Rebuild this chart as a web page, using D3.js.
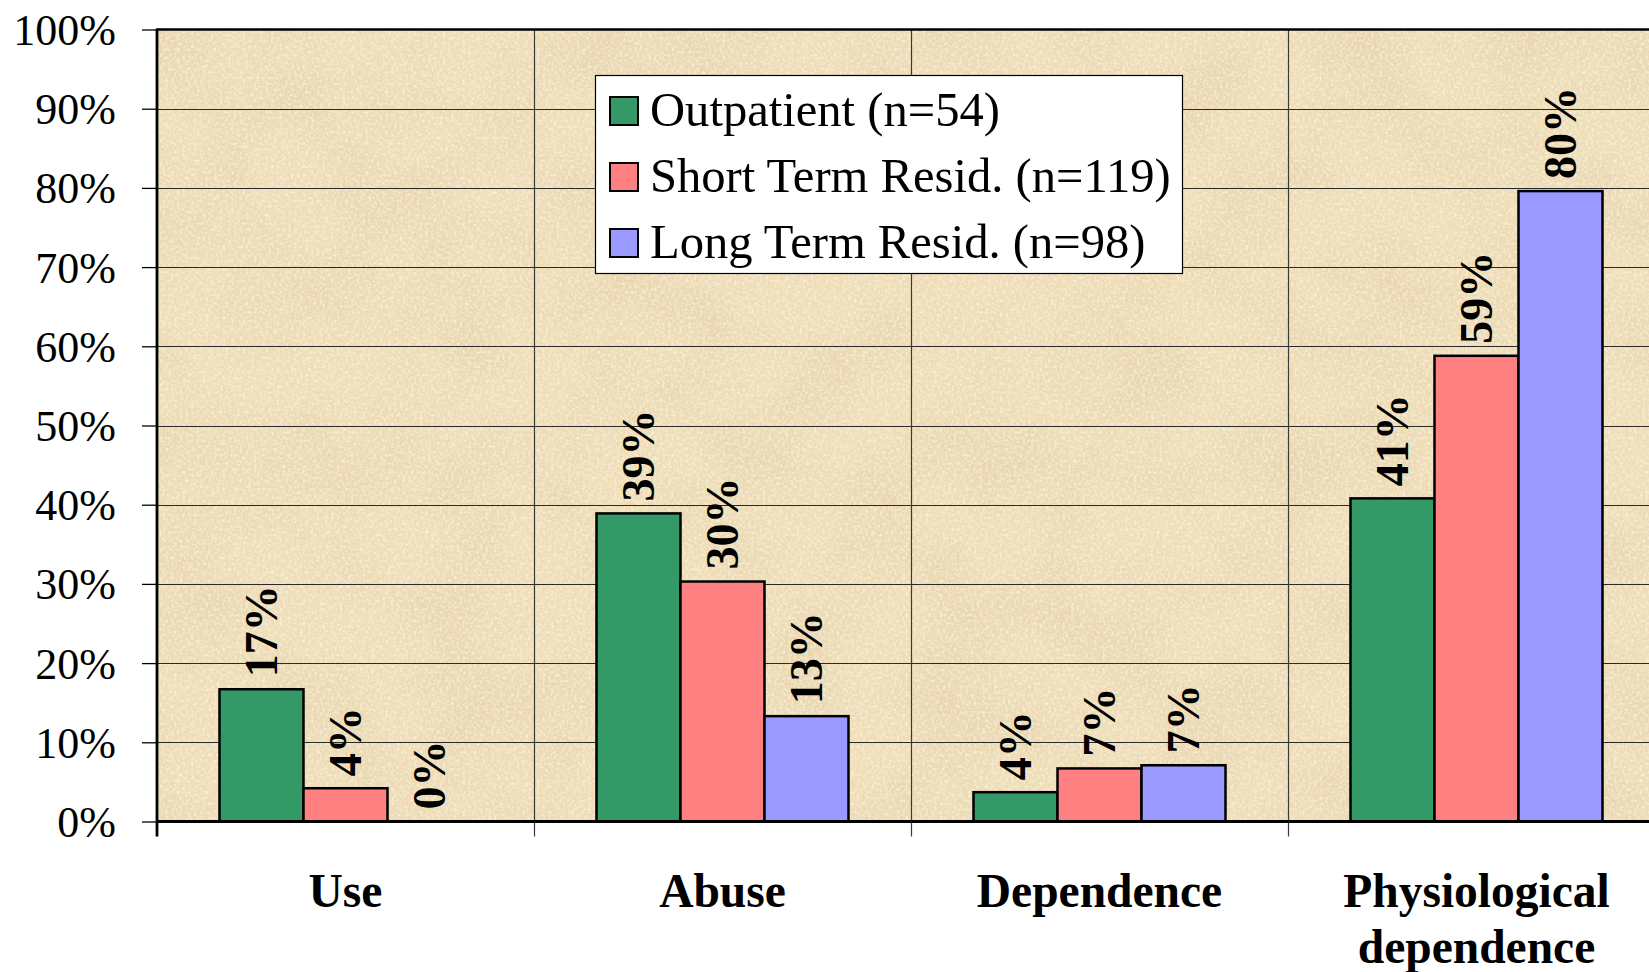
<!DOCTYPE html>
<html>
<head>
<meta charset="utf-8">
<script src="https://cdn.jsdelivr.net/npm/d3@7"></script>
<style>
  html, body { margin: 0; padding: 0; background: #fff; overflow: hidden; }
  svg { display: block; }
</style>
</head>
<body>
<svg id="chart" width="1649" height="972"></svg>
<script>
// ---- data ----
const categories = ["Use", "Abuse", "Dependence", "Physiological dependence"];
const categoryLines = [["Use"], ["Abuse"], ["Dependence"], ["Physiological", "dependence"]];
const seriesNames = ["Outpatient (n=54)", "Short Term Resid. (n=119)", "Long Term Resid. (n=98)"];
const outpatient = [0.167, 0.389, 0.037, 0.408];
const shortTerm = [0.042, 0.303, 0.067, 0.588];
const longTerm = [0.000, 0.133, 0.071, 0.796];
const seriesValues = [outpatient, shortTerm, longTerm];
const seriesColors = ["#339966", "#FF8080", "#9999FF"];
const yTicks = [0, 0.1, 0.2, 0.3, 0.4, 0.5, 0.6, 0.7, 0.8, 0.9, 1.0];

// ---- layout ----
const plot = { left: 157, top: 29.5, bottom: 821.5, right: 157 + 377 * 4 };
const serif = "'Liberation Serif', 'Times New Roman', serif";

const svg = d3.select("#chart");

const x0 = d3.scaleBand().domain(categories).range([plot.left, plot.right]).paddingInner(0).paddingOuter(0);
const x1 = d3.scaleBand().domain(seriesNames).range([0, x0.bandwidth()]).paddingInner(0).paddingOuter(0.744);
const y = d3.scaleLinear().domain([0, 1]).range([plot.bottom, plot.top]);

// background texture
const defs = svg.append("defs");
const filt = defs.append("filter").attr("id", "parch").attr("x", 0).attr("y", 0).attr("width", "100%").attr("height", "100%");
filt.append("feTurbulence").attr("type", "fractalNoise").attr("baseFrequency", "0.012").attr("numOctaves", 5).attr("seed", 7).attr("result", "noise");
filt.append("feColorMatrix").attr("in", "noise").attr("type", "matrix")
  .attr("values", "0 0 0 0 0.80  0 0 0 0 0.66  0 0 0 0 0.42  1.8 0 0 0 -0.66")
  .attr("result", "tint");
filt.append("feComposite").attr("in", "tint").attr("in2", "SourceGraphic").attr("operator", "in");

const filt2 = defs.append("filter").attr("id", "speck").attr("x", 0).attr("y", 0).attr("width", "100%").attr("height", "100%");
filt2.append("feTurbulence").attr("type", "fractalNoise").attr("baseFrequency", "0.35").attr("numOctaves", 2).attr("seed", 3).attr("result", "n2");
filt2.append("feColorMatrix").attr("in", "n2").attr("type", "matrix")
  .attr("values", "0 0 0 0 0.98  0 0 0 0 0.93  0 0 0 0 0.82  2.4 0 0 0 -1.0");
filt2.append("feComposite").attr("in2", "SourceGraphic").attr("operator", "in");

const clip = defs.append("clipPath").attr("id", "plotclip");
clip.append("rect").attr("x", plot.left).attr("y", plot.top).attr("width", plot.right - plot.left).attr("height", plot.bottom - plot.top);

const bg = svg.append("g").attr("clip-path", "url(#plotclip)");
bg.append("rect").attr("x", plot.left).attr("y", plot.top).attr("width", plot.right - plot.left).attr("height", plot.bottom - plot.top)
  .attr("fill", "#EEDDB7");
bg.append("rect").attr("x", plot.left).attr("y", plot.top).attr("width", plot.right - plot.left).attr("height", plot.bottom - plot.top)
  .attr("fill", "#fff").attr("filter", "url(#parch)");
bg.append("rect").attr("x", plot.left).attr("y", plot.top).attr("width", plot.right - plot.left).attr("height", plot.bottom - plot.top)
  .attr("fill", "#fff").attr("filter", "url(#speck)").attr("opacity", 0.7);

// horizontal gridlines
const grid = svg.append("g");
grid.selectAll("line.h").data(yTicks.slice(1, -1)).join("line")
  .attr("x1", plot.left).attr("x2", plot.right)
  .attr("y1", d => Math.round(y(d)) + 0.5).attr("y2", d => Math.round(y(d)) + 0.5)
  .attr("stroke", "#2a2a2a").attr("stroke-width", 1.2);

// vertical category separators (with tick marks below axis)
const bounds = categories.map(c => x0(c)).concat([plot.right]);
grid.selectAll("line.v").data(bounds.slice(1)).join("line")
  .attr("x1", d => Math.round(d) + 0.5).attr("x2", d => Math.round(d) + 0.5)
  .attr("y1", plot.top).attr("y2", plot.bottom + 15)
  .attr("stroke", "#3a3a3a").attr("stroke-width", 1.2);

// y axis
const yAxis = d3.axisLeft(y).tickValues(yTicks).tickFormat(d3.format(".0%")).tickSize(15).tickPadding(26);
const yg = svg.append("g").attr("transform", `translate(${plot.left},0)`).call(yAxis);
yg.select(".domain").remove();
yg.selectAll(".tick line").attr("stroke", "#000").attr("stroke-width", 1.3);
yg.selectAll(".tick text").attr("font-family", serif)
  .attr("font-size", 44).attr("fill", "#000").attr("dy", "0.34em");

// bars
const barData = [];
categories.forEach((c, ci) => {
  seriesNames.forEach((s, si) => {
    barData.push({ cat: c, series: s, value: seriesValues[si][ci], color: seriesColors[si] });
  });
});
svg.append("g").selectAll("rect").data(barData).join("rect")
  .attr("x", d => x0(d.cat) + x1(d.series))
  .attr("y", d => y(d.value))
  .attr("width", x1.bandwidth())
  .attr("height", d => y(0) - y(d.value))
  .attr("fill", d => d.color)
  .attr("stroke", "#000").attr("stroke-width", 2.5)
  .style("display", d => d.value > 0 ? null : "none");

// data labels
const fmt = v => Math.round(v * 100) + "%";
svg.append("g").selectAll("text").data(barData).join("text")
  .attr("transform", d => `translate(${x0(d.cat) + x1(d.series) + x1.bandwidth() / 2},${y(d.value) - 12}) rotate(-90)`)
  .attr("text-anchor", "start")
  .attr("dominant-baseline", "central")
  .attr("font-family", serif)
  .attr("font-weight", "bold").attr("font-size", 46).attr("fill", "#000")
  .text(d => fmt(d.value));

// plot frame
svg.append("line").attr("x1", plot.left).attr("x2", plot.right).attr("y1", plot.top).attr("y2", plot.top)
  .attr("stroke", "#000").attr("stroke-width", 2.5);
svg.append("line").attr("x1", plot.left).attr("x2", plot.left).attr("y1", plot.top - 1).attr("y2", plot.bottom + 15)
  .attr("stroke", "#000").attr("stroke-width", 2.8);
svg.append("line").attr("x1", plot.left).attr("x2", plot.right).attr("y1", plot.bottom).attr("y2", plot.bottom)
  .attr("stroke", "#000").attr("stroke-width", 3);

// x labels
const xl = svg.append("g").selectAll("text").data(categories).join("text")
  .attr("x", d => x0(d) + x0.bandwidth() / 2)
  .attr("y", 907)
  .attr("text-anchor", "middle")
  .attr("font-family", serif)
  .attr("font-weight", "bold").attr("font-size", 47.5).attr("fill", "#000");
xl.each(function(d, i) {
  const t = d3.select(this);
  categoryLines[i].forEach((ln, li) => {
    t.append("tspan").attr("x", x0(d) + x0.bandwidth() / 2).attr("dy", li === 0 ? 0 : 56).text(ln);
  });
});

// legend
const lg = svg.append("g");
lg.append("rect").attr("x", 595.5).attr("y", 75.5).attr("width", 587).attr("height", 198)
  .attr("fill", "#fff").attr("stroke", "#000").attr("stroke-width", 1.2);
const rows = lg.selectAll("g.row").data(seriesNames).join("g")
  .attr("transform", (d, i) => `translate(0,${111 + i * 66})`);
rows.append("rect").attr("x", 610).attr("y", -14).attr("width", 28).attr("height", 28)
  .attr("fill", (d, i) => seriesColors[i]).attr("stroke", "#000").attr("stroke-width", 2);
rows.append("text").attr("x", 650).attr("y", 15)
  .attr("font-family", serif)
  .attr("font-size", 48.6).attr("fill", "#000")
  .text(d => d);
</script>
</body>
</html>
